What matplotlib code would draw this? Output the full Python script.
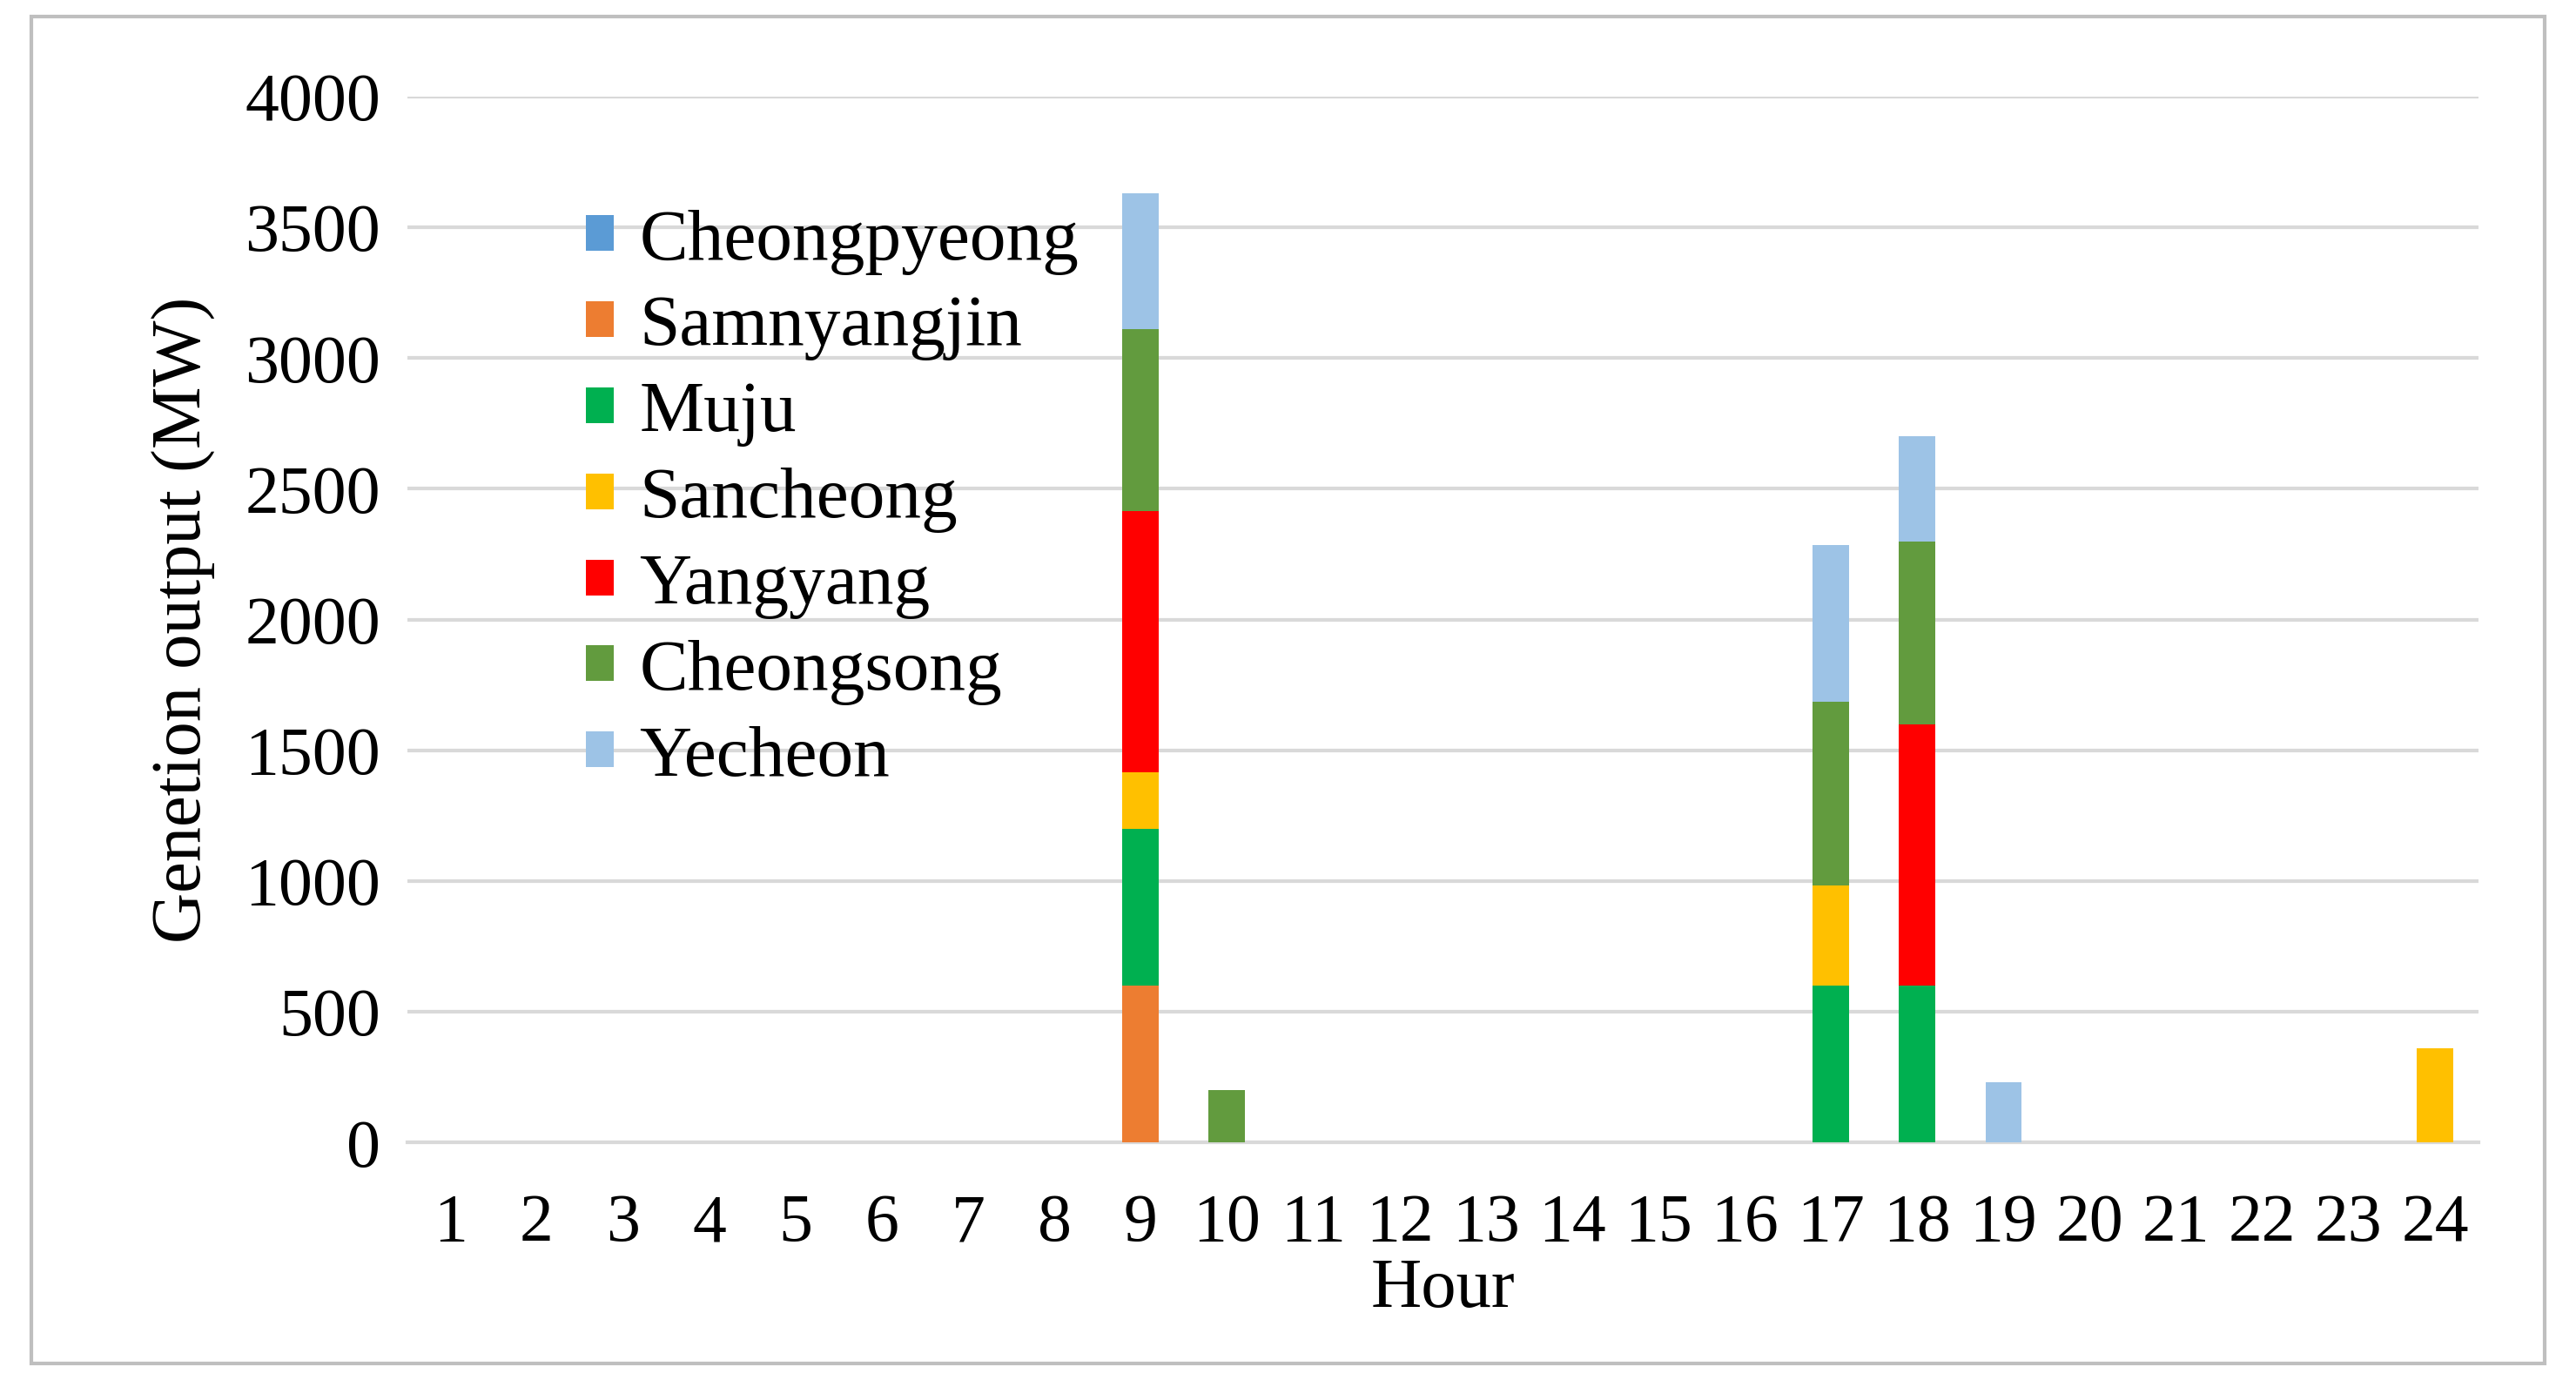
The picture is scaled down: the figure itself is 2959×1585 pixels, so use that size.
import matplotlib
matplotlib.use("Agg")
import matplotlib.pyplot as plt
import numpy as np
from matplotlib.patches import Rectangle

hours = [str(h) for h in range(1, 25)]
series_names = ["Cheongpyeong", "Sammyangjin", "Muju", "Sancheong", "Yangyang", "Cheongsong", "Yecheon"]
legend_names = ["Cheongpyeong", "Samnyangjin", "Muju", "Sancheong", "Yangyang", "Cheongsong", "Yecheon"]
colors = ["#5B9BD5", "#ED7D31", "#00B050", "#FFC000", "#FF0000", "#629B3E", "#9DC3E6"]

def zeros():
    return [0] * 24

cheongpyeong = zeros()
sammyangjin = zeros(); sammyangjin[8] = 600
muju = zeros(); muju[8] = 600; muju[16] = 600; muju[17] = 600
sancheong = zeros(); sancheong[8] = 215; sancheong[16] = 385; sancheong[23] = 360
yangyang = zeros(); yangyang[8] = 1000; yangyang[17] = 1000
cheongsong = zeros(); cheongsong[8] = 695; cheongsong[9] = 200; cheongsong[16] = 700; cheongsong[17] = 700
yecheon = zeros(); yecheon[8] = 520; yecheon[16] = 600; yecheon[17] = 400; yecheon[18] = 230
data = [cheongpyeong, sammyangjin, muju, sancheong, yangyang, cheongsong, yecheon]

plt.rcParams['font.family'] = ['Liberation Serif', 'DejaVu Serif']
fig = plt.figure(figsize=(29.59, 15.85), dpi=100)
ax = fig.add_axes([0.158, 0.172, 0.804, 0.758])
x = np.arange(24)
bottom = np.zeros(24)
for name, vals, c in zip(legend_names, data, colors):
    ax.bar(x, vals, 0.42, bottom=bottom, color=c, label=name, zorder=3)
    bottom += np.array(vals)

ax.set_xlim(-0.5, 23.5)
ax.set_ylim(0, 4000)
ax.set_yticks(range(0, 4001, 500))
ax.set_xticks(x)
ax.set_xticklabels(hours)
ax.grid(axis='y', color='#D9D9D9', linewidth=3, zorder=0)
for s in ['top', 'right', 'left']:
    ax.spines[s].set_visible(False)
ax.spines['bottom'].set_color('#D9D9D9')
ax.spines['bottom'].set_linewidth(3)
ax.tick_params(axis='both', length=0, labelsize=56, pad=22)
ax.tick_params(axis='x', pad=42)
ax.set_xlabel("Hour", fontsize=58, labelpad=2)
ax.set_ylabel("Genetion output (MW)", fontsize=58, labelpad=24)
leg = ax.legend(loc='upper left', bbox_to_anchor=(0.055, 0.955), frameon=False, fontsize=60,
                handlelength=0.38, handleheight=0.38, handletextpad=0.35, labelspacing=0.28)
fig.patches.append(Rectangle((0.012, 0.012), 0.976, 0.976, transform=fig.transFigure,
                             fill=False, edgecolor='#BFBFBF', linewidth=3))
fig.savefig("out.png", dpi=100)
